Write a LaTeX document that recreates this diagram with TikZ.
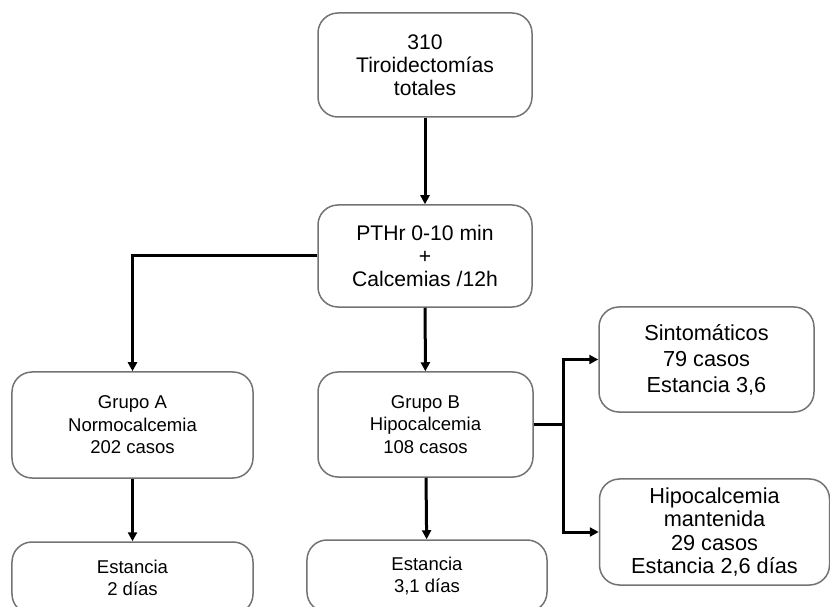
\documentclass[tikz,border=0pt]{standalone}
\usepackage{fontspec}
\setmainfont{Liberation Sans}
\usetikzlibrary{arrows.meta}

\begin{document}
\begin{tikzpicture}[x=0.5bp,y=-0.5bp,
  caja/.style={draw=black!55, line width=0.75bp, rounded corners=10bp, align=center,
    inner sep=0pt, font=\fontsize{10.6}{11.6}\selectfont},
  chica/.style={font=\fontsize{9.3}{11.3}\selectfont},
  linea/.style={line width=1.5bp},
  flecha/.style={linea, -{Triangle[length=4.5bp,width=4.5bp]}}]
\useasboundingbox (0,0) rectangle (830,607);
% cajas
\node[caja, minimum width=107bp, minimum height=52bp] (total) at (425,65) {310\\Tiroidectomías\\totales};
\node[caja, minimum width=107bp, minimum height=51bp] (pthr) at (425,256) {PTHr 0-10 min\\+\\Calcemias /12h};
\node[caja, chica, minimum width=120.5bp, minimum height=53bp] (grupoA) at (132.5,425) {Grupo A\\Normocalcemia\\202 casos};
\node[caja, chica, minimum width=107.5bp, minimum height=52.5bp] (grupoB) at (425.5,424.5) {Grupo B\\Hipocalcemia\\108 casos};
\node[caja, chica, minimum width=120.5bp, minimum height=36bp] (estA) at (132.5,578) {Estancia\\2 días};
\node[caja, chica, minimum width=120bp, minimum height=36bp] (estB) at (427,576) {Estancia\\3,1 días};
\node[caja, font=\fontsize{10.9}{13}\selectfont, minimum width=107.5bp, minimum height=52.5bp] (sint) at (706.5,359.5) {Sintomáticos\\79 casos\\Estancia 3,6};
\node[caja, font=\fontsize{10.9}{11.7}\selectfont, minimum width=115bp, minimum height=53bp] (hipo) at (714.5,532) {Hipocalcemia\\mantenida\\29 casos\\Estancia 2,6 días};
% conexiones
\coordinate (rama) at (563,424.5);
\draw[flecha] (total) -- (pthr);
\draw[flecha] (pthr.west) -| (grupoA.north);
\draw[flecha] (pthr) -- (grupoB);
\draw[flecha] (grupoA) -- (estA);
\draw[flecha] (grupoB) -- (estB);
\draw[linea] (grupoB.east) -- (rama);
\draw[flecha] (rama) |- (sint.west);
\draw[flecha] (rama) |- (hipo.west);
\end{tikzpicture}
\end{document}
